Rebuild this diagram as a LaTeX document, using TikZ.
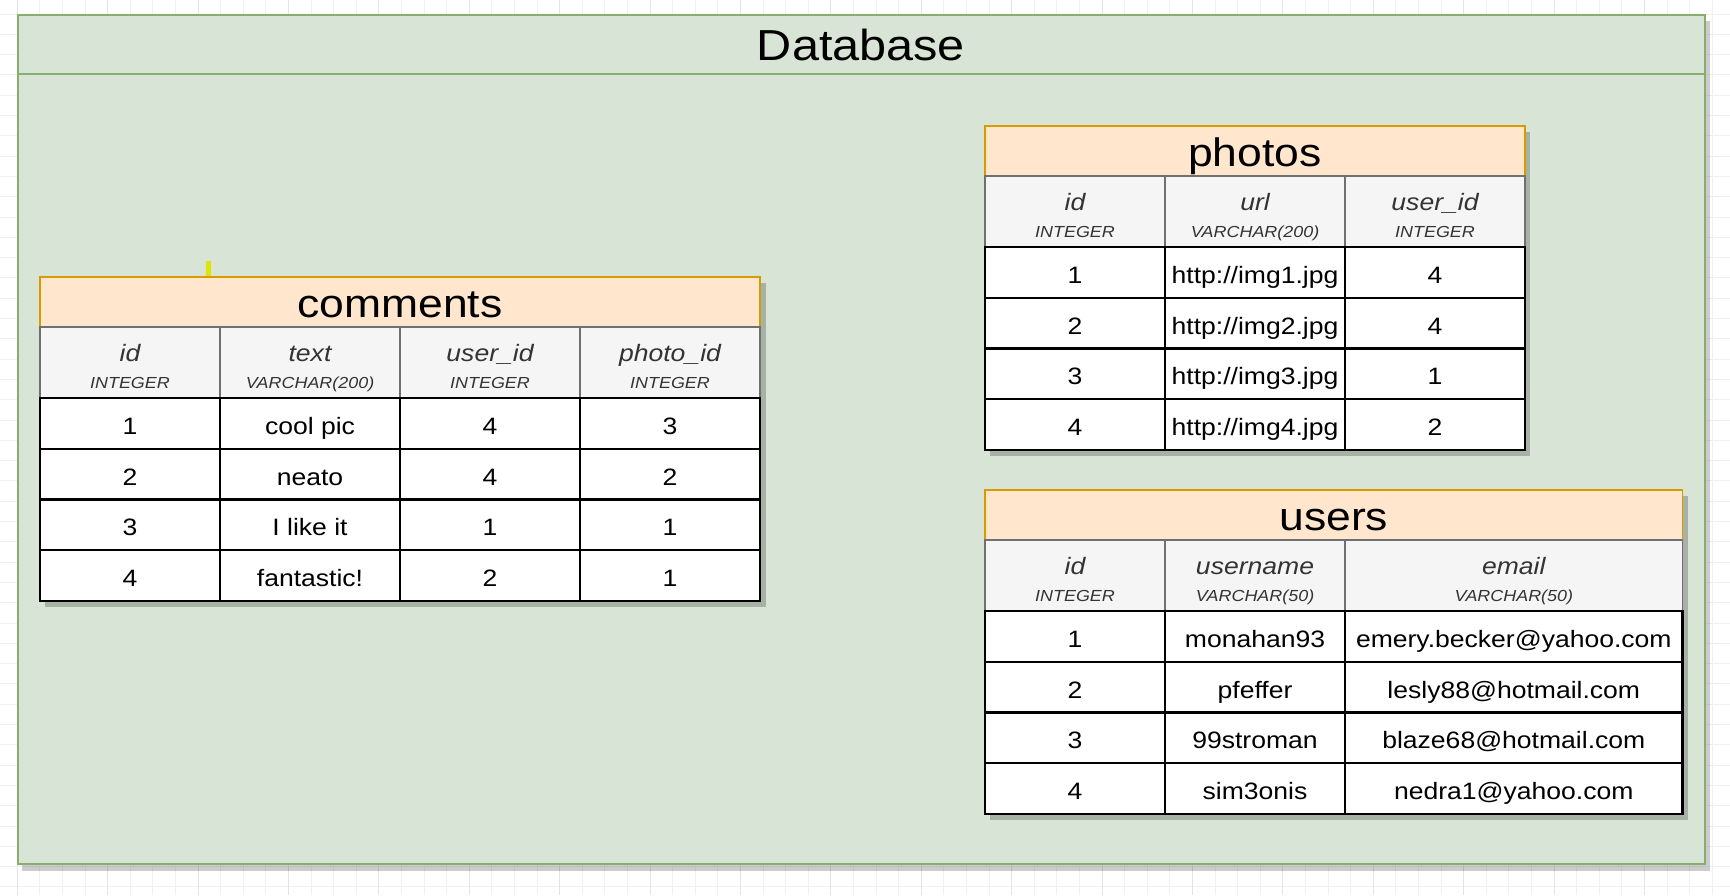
\documentclass[tikz,border=0pt]{standalone}
\usepackage{fontspec}
\setmainfont{Liberation Sans}[FakeStretch=1.12]
\usepackage{tikz}

\definecolor{dbfill}{HTML}{D8E4D5}
\definecolor{dbline}{HTML}{88AE6E}
\definecolor{titlefill}{HTML}{FFE6CC}
\definecolor{titleline}{HTML}{D79B00}
\definecolor{headfill}{HTML}{F5F5F5}
\definecolor{headline}{HTML}{707070}
\definecolor{headtext}{HTML}{333333}
\definecolor{gridminor}{HTML}{F0F0F0}
\definecolor{gridmajor}{HTML}{E4E4E4}
\definecolor{tickyellow}{HTML}{DEE600}

\tikzset{
	tabtitle/.style={draw=titleline, fill=titlefill, line width=0.75pt, anchor=north west,
		inner sep=0pt, outer sep=0pt, minimum height=25pt, text height=15pt, text depth=0pt,
		font=\fontsize{19.85pt}{24pt}\selectfont},
	colhead/.style={draw=headline, fill=headfill, line width=0.7pt, anchor=north west,
		inner sep=0pt, outer sep=0pt, minimum width=90pt, minimum height=35.5pt},
	fname/.style={anchor=base, yshift=-17pt, inner sep=0pt, text=headtext,
		font=\fontsize{11.85pt}{14pt}\selectfont\itshape},
	ftype/.style={anchor=base, yshift=5pt, inner sep=0pt, text=headtext,
		font=\fontsize{8pt}{10pt}\selectfont\itshape},
	datacell/.style={draw=black, fill=white, line width=1.2pt, anchor=north west,
		inner sep=0pt, outer sep=0pt, minimum width=90pt, minimum height=25.35pt,
		text height=11.15pt, text depth=0pt, font=\fontsize{11.85pt}{14pt}\selectfont},
	tshadow/.style={fill=black, opacity=0.22}
}

\begin{document}
\begin{tikzpicture}[x=0.5pt, y=-0.5pt]
	\useasboundingbox (0,0) rectangle (1730,895);
	\fill[white] (0,0) rectangle (1730,895);
	% background grid
	\foreach \gx in {17.2,39.8,...,1730} \draw[gridminor, line width=0.5pt] (\gx,0) -- (\gx,895);
	\foreach \gy in {14,34.3,...,895} \draw[gridminor, line width=0.5pt] (0,\gy) -- (1730,\gy);
	\foreach \gx in {17.2,107.6,...,1730} \draw[gridmajor, line width=0.5pt] (\gx,0) -- (\gx,895);

	% database container
	\fill[black, opacity=0.2] (22,21) rectangle (1710,871);
	\draw[dbline, fill=dbfill, line width=1pt] (17.5,14.5) rectangle (1705,864);
	\draw[dbline, line width=1pt] (17.5,74) -- (1705,74);
	\node[anchor=base, inner sep=0pt, font=\fontsize{21.7pt}{26pt}\selectfont] (dbTitle) at (861,60.7) {Database};

	% comments
	\fill[tshadow] (45,283) rectangle (765.5,607);
	\fill[tickyellow] (206,261) rectangle (211,277);
	\node[tabtitle, minimum width=360pt] (cmTitle) at (40,277) {comments};
	\node[colhead, label={[fname]north:id}, label={[ftype]south:INTEGER}] (cmId) at (40,327) {};
	\node[colhead, label={[fname]north:text}, label={[ftype]south:VARCHAR(200)}] (cmText) at (220,327) {};
	\node[colhead, label={[fname]north:user\_id}, label={[ftype]south:INTEGER}] (cmUser) at (400,327) {};
	\node[colhead, label={[fname]north:photo\_id}, label={[ftype]south:INTEGER}] (cmPhoto) at (580,327) {};
	\node[datacell] (cm11) at (40,398) {1};
	\node[datacell] (cm12) at (220,398) {cool pic};
	\node[datacell] (cm13) at (400,398) {4};
	\node[datacell] (cm14) at (580,398) {3};
	\node[datacell] (cm21) at (40,448.7) {2};
	\node[datacell] (cm22) at (220,448.7) {neato};
	\node[datacell] (cm23) at (400,448.7) {4};
	\node[datacell] (cm24) at (580,448.7) {2};
	\node[datacell] (cm31) at (40,499.4) {3};
	\node[datacell] (cm32) at (220,499.4) {I like it};
	\node[datacell] (cm33) at (400,499.4) {1};
	\node[datacell] (cm34) at (580,499.4) {1};
	\node[datacell] (cm41) at (40,550.1) {4};
	\node[datacell] (cm42) at (220,550.1) {fantastic!};
	\node[datacell] (cm43) at (400,550.1) {2};
	\node[datacell] (cm44) at (580,550.1) {1};

	% photos
	\fill[tshadow] (990,132) rectangle (1530,455.5);
	\node[tabtitle, minimum width=270pt] (phTitle) at (985,126) {photos};
	\node[colhead, label={[fname]north:id}, label={[ftype]south:INTEGER}] (phId) at (985,176) {};
	\node[colhead, label={[fname]north:url}, label={[ftype]south:VARCHAR(200)}] (phUrl) at (1165,176) {};
	\node[colhead, label={[fname]north:user\_id}, label={[ftype]south:INTEGER}] (phUser) at (1345,176) {};
	\node[datacell] (ph11) at (985,247) {1};
	\node[datacell] (ph12) at (1165,247) {http://img1.jpg};
	\node[datacell] (ph13) at (1345,247) {4};
	\node[datacell] (ph21) at (985,297.7) {2};
	\node[datacell] (ph22) at (1165,297.7) {http://img2.jpg};
	\node[datacell] (ph23) at (1345,297.7) {4};
	\node[datacell] (ph31) at (985,348.4) {3};
	\node[datacell] (ph32) at (1165,348.4) {http://img3.jpg};
	\node[datacell] (ph33) at (1345,348.4) {1};
	\node[datacell] (ph41) at (985,399.1) {4};
	\node[datacell] (ph42) at (1165,399.1) {http://img4.jpg};
	\node[datacell] (ph43) at (1345,399.1) {2};

	% users
	\fill[tshadow] (990,496) rectangle (1688,820);
	\node[tabtitle, minimum width=348.8pt] (usTitle) at (985,490) {users};
	\node[colhead, label={[fname]north:id}, label={[ftype]south:INTEGER}] (usId) at (985,540) {};
	\node[colhead, label={[fname]north:username}, label={[ftype]south:VARCHAR(50)}] (usName) at (1165,540) {};
	\node[colhead, minimum width=168.8pt, label={[fname]north:email}, label={[ftype]south:VARCHAR(50)}] (usMail) at (1345,540) {};
	\node[datacell] (us11) at (985,611) {1};
	\node[datacell] (us12) at (1165,611) {monahan93};
	\node[datacell, minimum width=168.8pt] (us13) at (1345,611) {emery.becker@yahoo.com};
	\node[datacell] (us21) at (985,661.7) {2};
	\node[datacell] (us22) at (1165,661.7) {pfeffer};
	\node[datacell, minimum width=168.8pt] (us23) at (1345,661.7) {lesly88@hotmail.com};
	\node[datacell] (us31) at (985,712.4) {3};
	\node[datacell] (us32) at (1165,712.4) {99stroman};
	\node[datacell, minimum width=168.8pt] (us33) at (1345,712.4) {blaze68@hotmail.com};
	\node[datacell] (us41) at (985,763.1) {4};
	\node[datacell] (us42) at (1165,763.1) {sim3onis};
	\node[datacell, minimum width=168.8pt] (us43) at (1345,763.1) {nedra1@yahoo.com};
\end{tikzpicture}
\end{document}
